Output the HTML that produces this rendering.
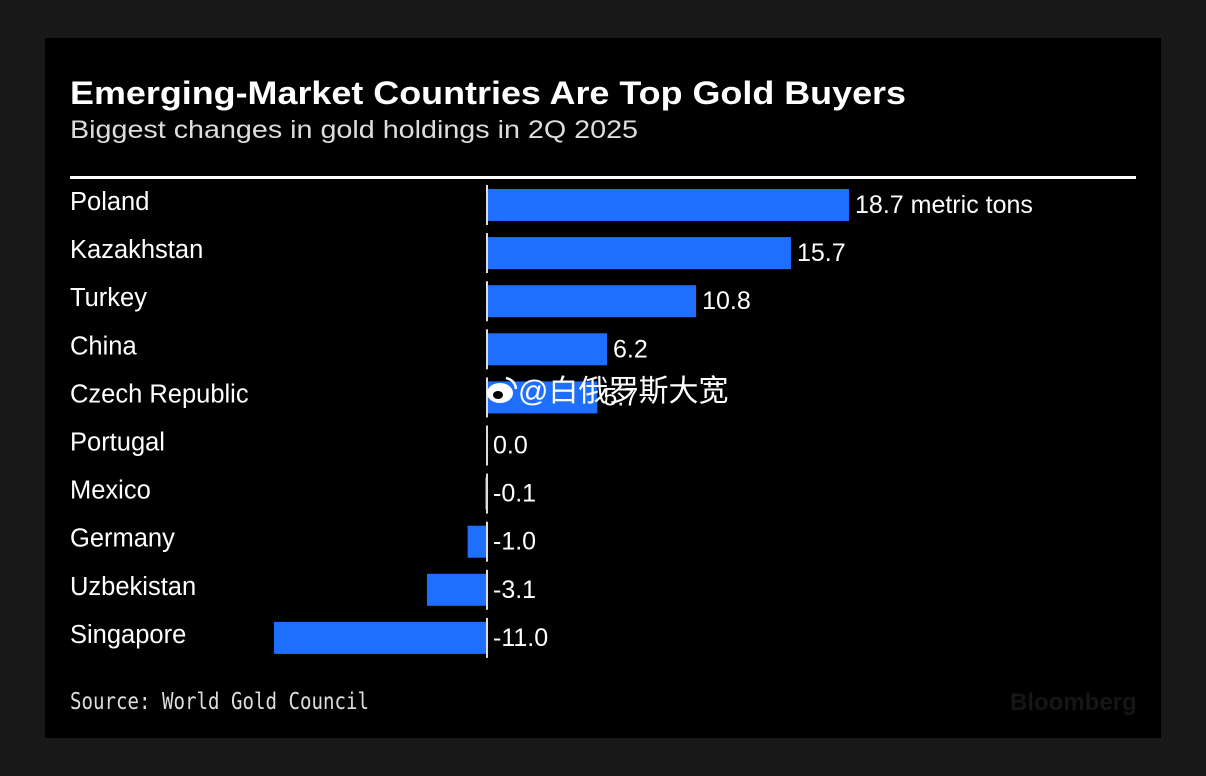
<!DOCTYPE html>
<html><head><meta charset="utf-8"><style>
html,body{margin:0;padding:0;background:#181818;width:1206px;height:776px;overflow:hidden}
svg{display:block}
</style></head><body>
<svg width="1206" height="776">
<rect x="45" y="38" width="1116" height="700" fill="#000"/>
<text x="70" y="104" fill="#fff" font-family="Liberation Sans, sans-serif" font-weight="bold" font-size="32" textLength="836" lengthAdjust="spacingAndGlyphs">Emerging-Market Countries Are Top Gold Buyers</text>
<text x="70" y="138" fill="#ddd" font-family="Liberation Sans, sans-serif" font-size="25" textLength="568" lengthAdjust="spacingAndGlyphs">Biggest changes in gold holdings in 2Q 2025</text>
<rect x="70" y="176" width="1066" height="3" fill="#fff"/>
<g id="bars"></g>
<text x="70" y="709" fill="#ddd" font-family="DejaVu Sans Mono, monospace" font-size="23" textLength="299" lengthAdjust="spacingAndGlyphs">Source: World Gold Council</text>
<text x="1010" y="710" fill="#161616" font-family="Liberation Sans, sans-serif" font-weight="bold" font-size="24">Bloomberg</text>
<g>
<ellipse cx="500" cy="393" rx="13" ry="10" fill="#fff"/>
<ellipse cx="498" cy="395" rx="5" ry="4" fill="#000"/>
<path d="M506 378 q9 2 10 11" stroke="#fff" stroke-width="2.5" fill="none"/>
<text x="518" y="401" fill="#fff" font-family="Liberation Sans, 'Noto Sans CJK SC', sans-serif" font-size="30">@白俄罗斯大宽</text>
</g>
</svg>
<script>
const categories=["Poland","Kazakhstan","Turkey","China","Czech Republic","Portugal","Mexico","Germany","Uzbekistan","Singapore"];
const values=[18.7,15.7,10.8,6.2,5.7,0.0,-0.1,-1.0,-3.1,-11.0];
const valueLabels=["18.7 metric tons","15.7","10.8","6.2","5.7","0.0","-0.1","-1.0","-3.1","-11.0"];
const x0=487, ppu=19.36, rowTop=205, pitch=48.1, bh=32;
const xs=v=>x0+v*ppu, ys=i=>rowTop+i*pitch;
const g=document.getElementById('bars'), NS='http://www.w3.org/2000/svg';
categories.forEach((c,i)=>{
  const cy=ys(i), v=values[i];
  const r=document.createElementNS(NS,'rect');
  const a=Math.min(xs(0),xs(v)), w=Math.abs(xs(v)-xs(0));
  r.setAttribute('x',a);r.setAttribute('y',cy-bh/2);r.setAttribute('width',Math.max(w,1));r.setAttribute('height',bh);r.setAttribute('fill','#1f6fff');
  
  
  g.appendChild(r);
  const t=document.createElementNS(NS,'text');
  t.setAttribute('x',70);t.setAttribute('y',cy+5);t.setAttribute('fill','#fff');t.setAttribute('font-family','Liberation Sans, sans-serif');t.setAttribute('font-size','25.5');
  t.textContent=c;
  
  
  g.appendChild(t);
  const l=document.createElementNS(NS,'text');
  l.setAttribute('x',Math.max(xs(v),xs(0))+6);l.setAttribute('y',cy+8);l.setAttribute('fill','#fff');l.setAttribute('font-family','Liberation Sans, sans-serif');l.setAttribute('font-size','25');
  l.textContent=valueLabels[i];
  
  
  g.appendChild(l);
  const ax=document.createElementNS(NS,'rect');
  ax.setAttribute('x',x0-1);ax.setAttribute('y',cy-bh/2-4);ax.setAttribute('width',2);ax.setAttribute('height',bh+8);ax.setAttribute('fill','#ddd');
  
  
  g.appendChild(ax);
});
</script>
</body></html>
